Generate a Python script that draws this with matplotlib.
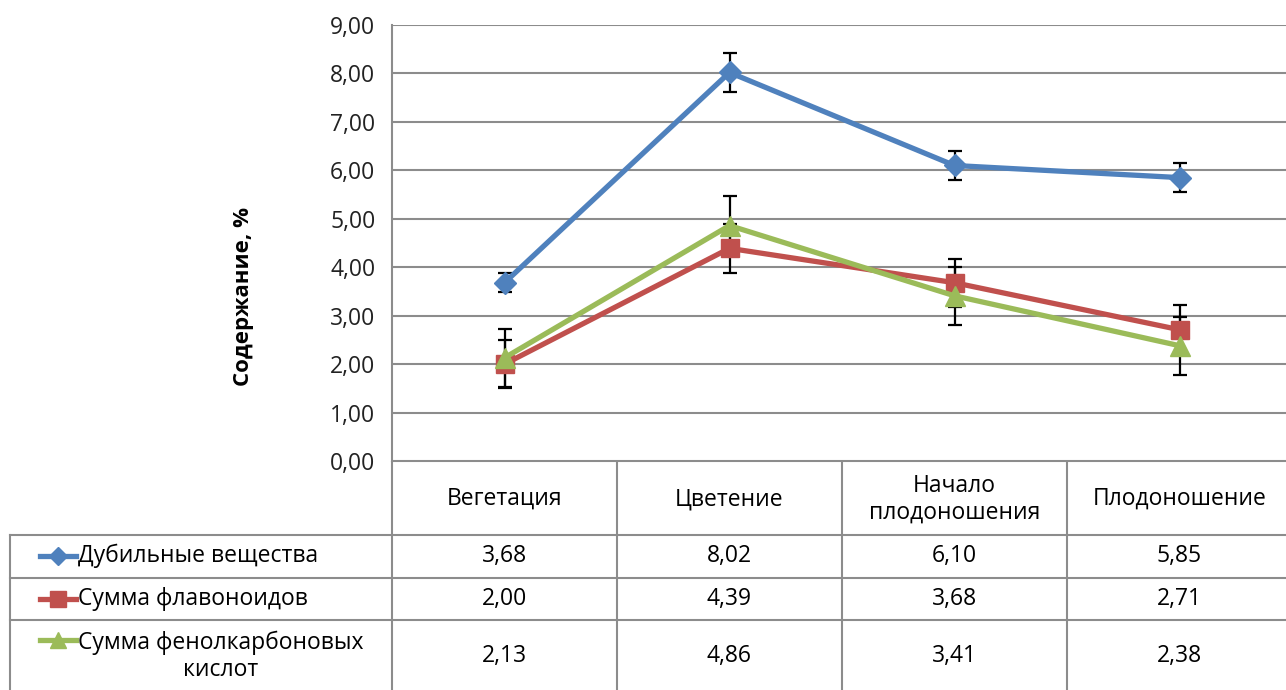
import matplotlib
matplotlib.use("Agg")
import matplotlib.pyplot as plt
import numpy as np

plt.rcParams['font.family'] = ['Open Sans', 'DejaVu Sans']

# Фазы развития и содержание веществ, %
phases = ["Вегетация", "Цветение", "Начало\nплодоношения", "Плодоношение"]
series_names = ["Дубильные вещества", "Сумма флавоноидов", "Сумма фенолкарбоновых\nкислот"]
tannins = [3.68, 8.02, 6.10, 5.85]
flavonoids = [2.00, 4.39, 3.68, 2.71]
phenolic_acids = [2.13, 4.86, 3.41, 2.38]
tannins_err = [0.2, 0.4, 0.3, 0.3]
flavonoids_err = [0.5, 0.5, 0.5, 0.5]
phenolic_acids_err = [0.6, 0.6, 0.6, 0.6]

colors = ["#4F81BD", "#C0504D", "#9BBB59"]
markers = ["D", "s", "^"]
msizes = [11, 13, 14]
grid_c = "#8C8C8C"
fs = 16.5

W, H = 1286, 690
fig = plt.figure(figsize=(W / 100, H / 100), dpi=100)

# plot area in pixels: left 392, top 25, bottom 461, 225 px per category
px_left, px_top, px_bot, col_w = 392, 25, 461, 225
ax = fig.add_axes([px_left / W, 1 - px_bot / H, 4 * col_w / W, (px_bot - px_top) / H])
ax.set_xlim(-0.5, 3.5)
ax.set_ylim(0, 9)
x = np.arange(len(phases))

data = [tannins, flavonoids, phenolic_acids]
errs = [tannins_err, flavonoids_err, phenolic_acids_err]
for vals, err in zip(data, errs):
    ax.errorbar(x, vals, yerr=err, fmt="none", ecolor="black", elinewidth=1.6,
                capsize=5, capthick=1.6, zorder=3)
for vals, c, m, ms in zip(data, colors, markers, msizes):
    ax.plot(x, vals, color=c, lw=3.8, marker=m, ms=ms, mec=c, mfc=c, zorder=4)

ax.set_yticks(np.arange(0, 10, 1))
ax.set_yticklabels([f"{v:.2f}".replace(".", ",") for v in range(10)], fontsize=fs, color="#222222")
ax.set_xticks([])
ax.tick_params(axis="y", length=0, pad=12)
ax.grid(axis="y", color=grid_c, lw=1.5)
ax.set_axisbelow(True)
for s in ["top", "right", "bottom"]:
    ax.spines[s].set_visible(False)
ax.spines["left"].set_color(grid_c)
ax.spines["left"].set_linewidth(1.5)
ax.set_ylabel("Содержание, %", fontsize=16, fontweight="bold")
ax.yaxis.set_label_coords((254 - px_left) / (4 * col_w), (px_bot - 296) / (px_bot - px_top))

# data table under the plot, y in pixel rows from the top
tab = fig.add_axes([0, 0, 1, 1 - px_bot / H])
tab.set_xlim(-0.5 - px_left / col_w, -0.5 + (W - px_left) / col_w)
tab.set_ylim(H, px_bot)
tab.axis("off")
left_edge = -0.5 - (px_left - 10) / col_w
right_edge = 3.6
rows = [535, 578, 620]
row_mid = [556, 599, 656]

tab.plot([-0.5, right_edge], [px_bot, px_bot], color=grid_c, lw=1.5)
for r in rows:
    tab.plot([left_edge, right_edge], [r, r], color=grid_c, lw=1.5)
for vx in [-0.5, 0.5, 1.5, 2.5]:
    tab.plot([vx, vx], [px_bot, H + 5], color=grid_c, lw=1.5)
tab.plot([left_edge, left_edge], [rows[0], H + 5], color=grid_c, lw=1.5)

for i, p in enumerate(phases):
    tab.text(x[i], 499, p, ha="center", va="center", fontsize=fs, linespacing=1.15)

key_x0 = -0.5 - (px_left - 40) / col_w
key_x1 = -0.5 - (px_left - 76) / col_w
key_xm = (key_x0 + key_x1) / 2
for j, (name, vals, c, m) in enumerate(zip(series_names, data, colors, markers)):
    ym = row_mid[j]
    yk = 556 + 43 * j if j < 2 else 640
    tab.plot([key_x0, key_x1], [yk, yk], color=c, lw=3.8)
    tab.plot([key_xm], [yk], marker=m, color=c, ms=9 if m == "D" else 11)
    tab.text(-0.5 - (px_left - 78) / col_w, ym, name, ha="left", va="center",
             fontsize=fs, multialignment="center", linespacing=1.15)
    for i, v in enumerate(vals):
        tab.text(x[i], ym, f"{v:.2f}".replace(".", ","), ha="center", va="center", fontsize=fs)

fig.savefig("out.png", dpi=100)
